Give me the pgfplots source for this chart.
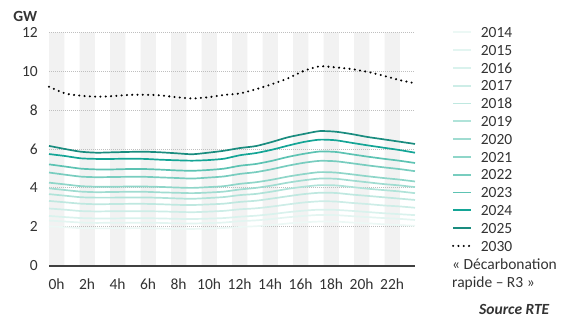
\documentclass[border=0pt]{standalone}
\usepackage{fontspec}
\setmainfont{Carlito}
\usepackage{pgfplots}
\usepackage{pgfplotstable}
\pgfplotsset{compat=1.18}
\definecolor{c2014}{HTML}{ECF8F5}
\definecolor{c2015}{HTML}{E3F5F1}
\definecolor{c2016}{HTML}{D9F2ED}
\definecolor{c2017}{HTML}{CDEDE7}
\definecolor{c2018}{HTML}{BFE8E0}
\definecolor{c2019}{HTML}{B0E3D9}
\definecolor{c2020}{HTML}{A0DCD1}
\definecolor{c2021}{HTML}{8FD6C9}
\definecolor{c2022}{HTML}{78CDBF}
\definecolor{c2023}{HTML}{5DC3B3}
\definecolor{c2024}{HTML}{14A596}
\definecolor{c2025}{HTML}{1A8C7F}
\definecolor{stripe}{HTML}{F2F2F2}
\definecolor{gridgray}{HTML}{BFBFBF}
\definecolor{axisgray}{HTML}{404040}
\definecolor{textgray}{HTML}{333333}
\pgfplotstableread{
h y2014 y2015 y2016 y2017 y2018 y2019 y2020 y2021 y2022 y2023 y2024 y2025 y2030
0 2.02 2.32 2.56 2.94 3.33 3.68 3.98 4.27 4.79 5.21 5.74 6.16 9.20
1 1.98 2.27 2.50 2.88 3.26 3.60 3.89 4.18 4.68 5.10 5.64 6.00 8.86
2 1.93 2.22 2.45 2.81 3.19 3.52 3.81 4.09 4.58 4.99 5.52 5.86 8.74
3 1.92 2.20 2.43 2.79 3.16 3.50 3.78 4.06 4.55 4.95 5.49 5.81 8.69
4 1.92 2.21 2.43 2.80 3.17 3.50 3.79 4.06 4.56 4.95 5.49 5.83 8.72
5 1.93 2.21 2.44 2.80 3.18 3.51 3.80 4.07 4.57 4.97 5.50 5.85 8.78
6 1.93 2.21 2.44 2.80 3.18 3.51 3.80 4.07 4.57 4.97 5.49 5.86 8.79
7 1.91 2.20 2.43 2.79 3.16 3.49 3.77 4.05 4.54 4.94 5.45 5.83 8.76
8 1.90 2.18 2.41 2.77 3.13 3.46 3.75 4.02 4.51 4.90 5.42 5.78 8.66
9 1.89 2.17 2.40 2.75 3.12 3.44 3.73 4.00 4.48 4.88 5.40 5.73 8.60
10 1.91 2.19 2.42 2.78 3.15 3.48 3.76 4.04 4.53 4.92 5.43 5.81 8.66
11 1.94 2.22 2.45 2.82 3.19 3.53 3.81 4.09 4.59 4.99 5.50 5.91 8.78
12 1.99 2.29 2.52 2.90 3.28 3.63 3.92 4.21 4.72 5.14 5.68 6.05 8.86
13 2.03 2.33 2.57 2.95 3.34 3.69 4.00 4.29 4.81 5.23 5.79 6.15 9.07
14 2.09 2.40 2.65 3.04 3.45 3.81 4.12 4.42 4.96 5.39 5.96 6.36 9.33
15 2.17 2.49 2.75 3.15 3.57 3.95 4.27 4.58 5.14 5.59 6.17 6.60 9.63
16 2.23 2.56 2.83 3.25 3.68 4.06 4.39 4.71 5.29 5.75 6.36 6.77 10.01
17 2.27 2.61 2.88 3.31 3.75 4.14 4.48 4.81 5.39 5.87 6.48 6.92 10.25
18 2.27 2.60 2.87 3.30 3.74 4.13 4.47 4.79 5.37 5.85 6.45 6.89 10.20
19 2.22 2.55 2.82 3.23 3.66 4.05 4.38 4.70 5.27 5.73 6.32 6.77 10.11
20 2.18 2.50 2.76 3.17 3.59 3.96 4.29 4.60 5.16 5.61 6.19 6.62 9.97
21 2.13 2.45 2.70 3.10 3.52 3.89 4.20 4.51 5.06 5.50 6.07 6.50 9.77
22 2.09 2.41 2.65 3.05 3.45 3.82 4.13 4.43 4.97 5.40 5.95 6.38 9.55
23 2.05 2.35 2.60 2.98 3.38 3.73 4.04 4.33 4.86 5.28 5.81 6.26 9.38
}\data
\newcommand\fs{\fontsize{15.5}{18}\selectfont}
\begin{document}
\begin{tikzpicture}
\begin{axis}[
  set layers,
  scale only axis, width=366pt, height=233.4pt,
  xmin=0, xmax=23, ymin=0, ymax=12,
  clip=false,
  axis line style={draw=none},
  ytick={2,4,...,12},
  extra y ticks={0},
  extra y tick style={grid style={solid, draw=axisgray, line width=1.7pt, dash pattern=}},
  ymajorgrids,
  grid style={draw=gridgray, line width=0.8pt, dash pattern=on 0.8pt off 1.2pt},
  major tick length=0pt,
  xtick={0.4792,2.3958,4.3125,6.2292,8.1458,10.0625,11.9792,13.8958,15.8125,17.7292,19.6458,21.5625},
  xticklabels={0h,2h,4h,6h,8h,10h,12h,14h,16h,18h,20h,22h},
  tick label style={font=\fs, text=textgray},
  yticklabel style={inner sep=0pt, anchor=east, xshift=-11pt},
  xticklabel style={inner sep=0pt, anchor=north, yshift=-12.8pt},
  /pgf/number format/assume math mode=true,
  legend style={at={(rel axis cs:1.1011,1.038)}, anchor=north west, draw=none, fill=none,
    inner sep=0pt, outer sep=0pt, font=\fs, text=textgray, row sep=0pt,
    nodes={inner sep=0pt, text height=14pt, text depth=3.8pt},
    /tikz/every odd column/.append style={column sep=8.5pt}},
  legend cell align=left,
  legend image code/.code={\draw[#1] (0pt,0pt) -- (18pt,0pt);},
  every axis plot/.append style={line width=1.7pt, smooth, tension=0.4},
]
\addplot[fill=stripe, draw=none, forget plot, on layer=axis background, sharp plot] coordinates {
(0,0)(0,12)(0.9583,12)(0.9583,0)
(1.9167,0)(1.9167,12)(2.875,12)(2.875,0)
(3.8333,0)(3.8333,12)(4.7917,12)(4.7917,0)
(5.75,0)(5.75,12)(6.7083,12)(6.7083,0)
(7.6667,0)(7.6667,12)(8.625,12)(8.625,0)
(9.5833,0)(9.5833,12)(10.5417,12)(10.5417,0)
(11.5,0)(11.5,12)(12.4583,12)(12.4583,0)
(13.4167,0)(13.4167,12)(14.375,12)(14.375,0)
(15.3333,0)(15.3333,12)(16.2917,12)(16.2917,0)
(17.25,0)(17.25,12)(18.2083,12)(18.2083,0)
(19.1667,0)(19.1667,12)(20.125,12)(20.125,0)
(21.0833,0)(21.0833,12)(22.0417,12)(22.0417,0)
} -- cycle;
\addplot[c2014] table[x=h,y=y2014]{\data}; \addlegendentry{2014}
\addplot[c2015] table[x=h,y=y2015]{\data}; \addlegendentry{2015}
\addplot[c2016] table[x=h,y=y2016]{\data}; \addlegendentry{2016}
\addplot[c2017] table[x=h,y=y2017]{\data}; \addlegendentry{2017}
\addplot[c2018] table[x=h,y=y2018]{\data}; \addlegendentry{2018}
\addplot[c2019] table[x=h,y=y2019]{\data}; \addlegendentry{2019}
\addplot[c2020] table[x=h,y=y2020]{\data}; \addlegendentry{2020}
\addplot[c2021] table[x=h,y=y2021]{\data}; \addlegendentry{2021}
\addplot[c2022] table[x=h,y=y2022]{\data}; \addlegendentry{2022}
\addplot[c2023] table[x=h,y=y2023]{\data}; \addlegendentry{2023}
\addplot[c2024] table[x=h,y=y2024]{\data}; \addlegendentry{2024}
\addplot[c2025] table[x=h,y=y2025]{\data}; \addlegendentry{2025}
\addplot[black, line width=2.3pt, line cap=round, dash pattern=on 0pt off 5.3pt] table[x=h,y=y2030]{\data}; \addlegendentry{2030}
\node[anchor=base west, inner sep=0pt, font=\fs, text=textgray] at (rel axis cs:1.1011,-0.017) {« Décarbonation};
\node[anchor=base west, inner sep=0pt, font=\fs, text=textgray] at (rel axis cs:1.1011,-0.094) {rapide – R3 »};
\node[anchor=base west, inner sep=0pt, font=\fs\bfseries\itshape, text=textgray] at (rel axis cs:1.1749,-0.209) {Source RTE};
\node[anchor=base west, inner sep=0pt, font=\fs\bfseries, text=textgray] at (rel axis cs:-0.098,1.045) {GW};
\coordinate (bl) at (rel axis cs:0,0);
\coordinate (tr) at (rel axis cs:1,1);
\end{axis}
\pgfresetboundingbox
\useasboundingbox ([xshift=-49pt,yshift=-52.3pt]bl) rectangle ([xshift=164pt,yshift=32.3pt]tr);
\end{tikzpicture}
\end{document}
